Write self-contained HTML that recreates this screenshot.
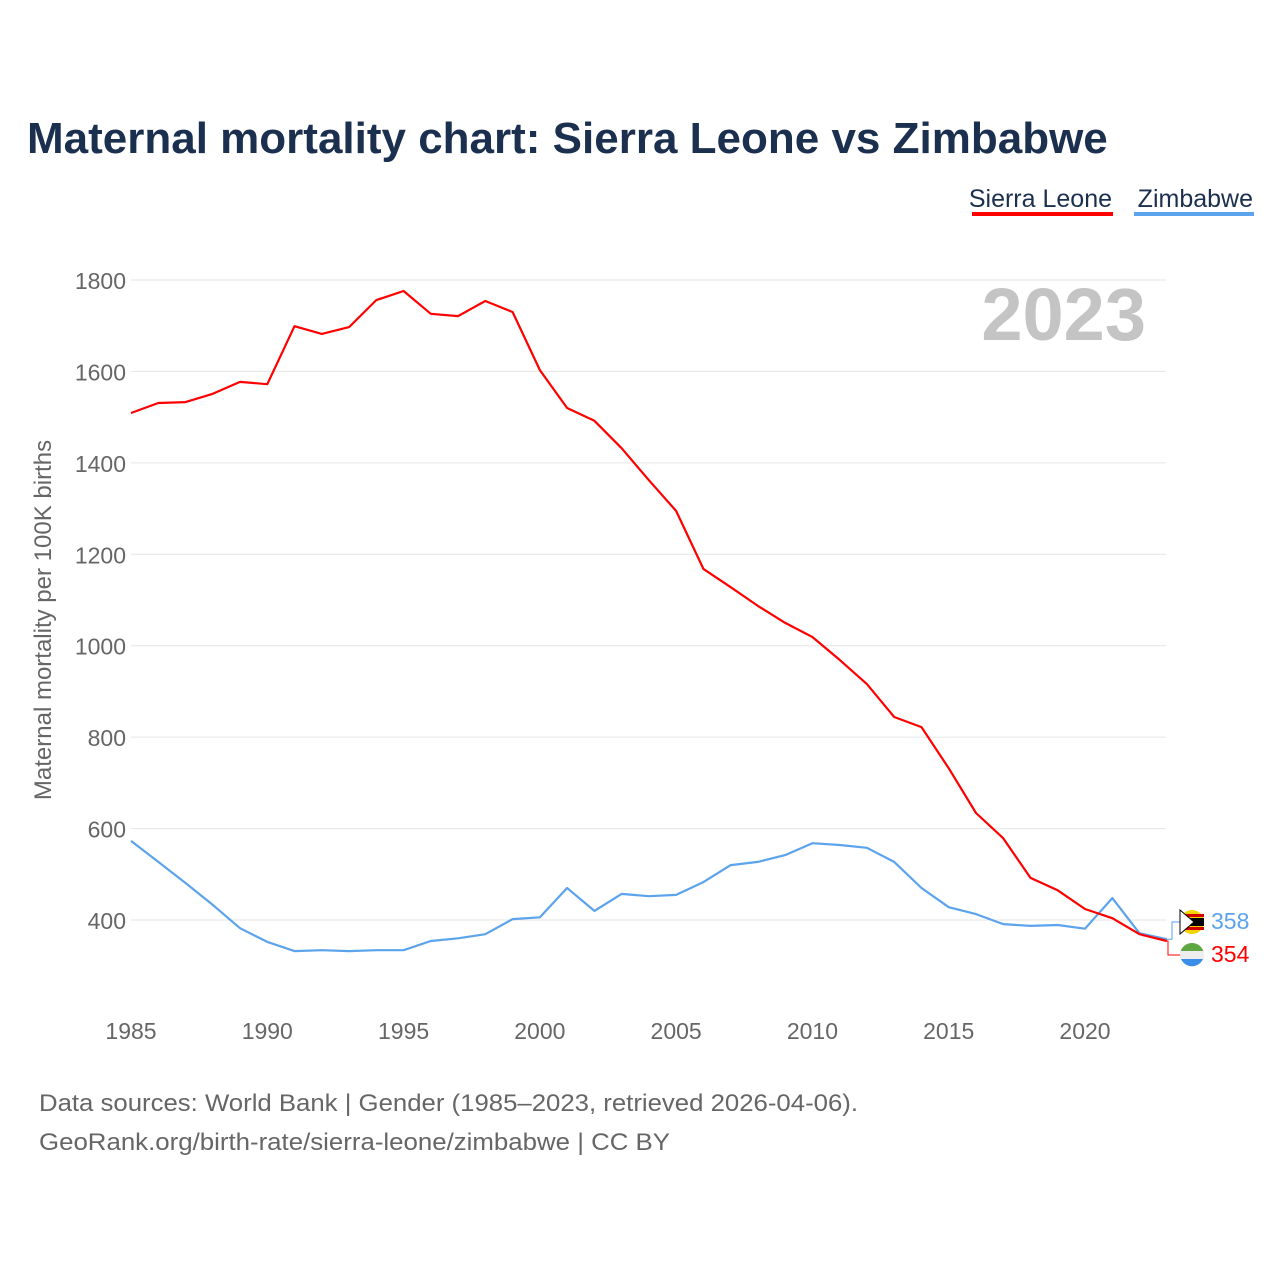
<!DOCTYPE html>
<html><head><meta charset="utf-8"><style>
body{margin:0;background:#fff;font-family:"Liberation Sans",sans-serif}
#wrap{position:relative;width:1280px;height:1280px}
</style></head><body>
<div id="wrap">
<svg id="chart" width="1280" height="1280"></svg>
</div>
<script>
const years=[];for(let y=1985;y<=2023;y++)years.push(y);
const sierraLeone=[1509,1531,1533,1551,1577,1572,1699,1682,1697,1756,1776,1726,1721,1754,1730,1603,1520,1492,1432,1362,1295,1168,1128,1087,1050,1019,969,916,844,822,732,634,579,492,465,424,404,369,354];
const zimbabwe=[573,527,481,433,382,352,332,334,332,334,334,354,360,369,402,406,470,420,457,452,455,483,520,527,542,568,564,558,527,470,428,413,391,387,389,381,448,371,358];
const yTicks=[400,600,800,1000,1200,1400,1600,1800];
const xTicks=[1985,1990,1995,2000,2005,2010,2015,2020];
const NS="http://www.w3.org/2000/svg";
const svg=document.getElementById('chart');
const xS=y=>131+(y-1985)*(1085-131)/35;
const yS=v=>920-(v-400)*(640/1400);
function el(t,a,txt){const e=document.createElementNS(NS,t);for(const k in a)e.setAttribute(k,a[k]);if(txt!==undefined)e.textContent=txt;svg.appendChild(e);return e;}
let e;
e=el('text',{x:27,y:153,'font-size':44,'font-weight':'bold',fill:'#1b2f4e'},'Maternal mortality chart: Sierra Leone vs Zimbabwe');

e=el('text',{x:1112,y:207,'font-size':25,fill:'#1b2f4e','text-anchor':'end'},'Sierra Leone');

e=el('rect',{x:972,y:212,width:141,height:4,fill:'#ff0000'});

e=el('text',{x:1253,y:207,'font-size':25,fill:'#1b2f4e','text-anchor':'end'},'Zimbabwe');

e=el('rect',{x:1134,y:212,width:120,height:4,fill:'#5ba3ec'});

yTicks.forEach(v=>{
 e=el('line',{x1:131,x2:1166,y1:yS(v),y2:yS(v),stroke:'#e6e6e6','stroke-width':1});
 
 e=el('text',{x:126,y:yS(v)+9,'font-size':23,fill:'#666','text-anchor':'end'},v);
 
});
xTicks.forEach(v=>{
 e=el('text',{x:xS(v),y:1039,'font-size':23,fill:'#666','text-anchor':'middle'},v);
 
});
e=el('text',{x:0,y:0,'font-size':24,fill:'#666','text-anchor':'middle',transform:'translate(51,620) rotate(-90)'},'Maternal mortality per 100K births');

e=el('text',{x:1146,y:340,'font-size':74,'font-weight':'bold',fill:'#c4c4c4','text-anchor':'end'},'2023');

function line(data,color,name){
 const d=data.map((v,i)=>(i?'L':'M')+xS(years[i]).toFixed(1)+','+yS(v).toFixed(1)).join(' ');
 const p=el('path',{d:d,fill:'none',stroke:color,'stroke-width':2.2,'stroke-linejoin':'round'});
 
}
line(zimbabwe,'#5ba3ec','zimbabwe-line');
line(sierraLeone,'#ff0000','sierra-leone-line');
const lx=xS(2023);
const zl=zimbabwe[zimbabwe.length-1], sl=sierraLeone[sierraLeone.length-1];
e=el('path',{d:`M${lx},${yS(zl)} L1172,${yS(zl)} L1172,922 L1180,922`,fill:'none',stroke:'#5ba3ec','stroke-width':1});

e=el('path',{d:`M${lx},${yS(sl)} L1168,${yS(sl)} L1168,955 L1180,955`,fill:'none',stroke:'#ff0000','stroke-width':1});

e=el('circle',{cx:1192,cy:922,r:12,fill:'#f2d400'});
e=el('rect',{x:1180,y:918,width:24,height:8,fill:'#000'});
e=el('rect',{x:1182,y:914,width:22,height:3,fill:'#d40000'});
e=el('rect',{x:1182,y:927,width:22,height:3,fill:'#d40000'});
e=el('path',{d:'M1180,910 L1194,922 L1180,934 Z',fill:'#fff',stroke:'#000','stroke-width':1});
e=el('path',{d:'M1180,955 A12,12 0 0 1 1204,955 Z',fill:'#5fa540'});
e=el('rect',{x:1180,y:951,width:24,height:8,fill:'#eee'});
e=el('path',{d:'M1181,959 A12,12 0 0 0 1203,959 Z',fill:'#3a8ee8'});
e=el('text',{x:1211,y:929,'font-size':23,fill:'#5ba3ec'},zl);
e=el('text',{x:1211,y:962,'font-size':23,fill:'#ff0000'},sl);
e=el('text',{x:39,y:1111,'font-size':24,fill:'#666',textLength:819,lengthAdjust:'spacingAndGlyphs'},'Data sources: World Bank | Gender (1985–2023, retrieved 2026-04-06).');

e=el('text',{x:39,y:1150,'font-size':24,fill:'#666',textLength:631,lengthAdjust:'spacingAndGlyphs'},'GeoRank.org/birth-rate/sierra-leone/zimbabwe | CC BY');

</script>
</body></html>
